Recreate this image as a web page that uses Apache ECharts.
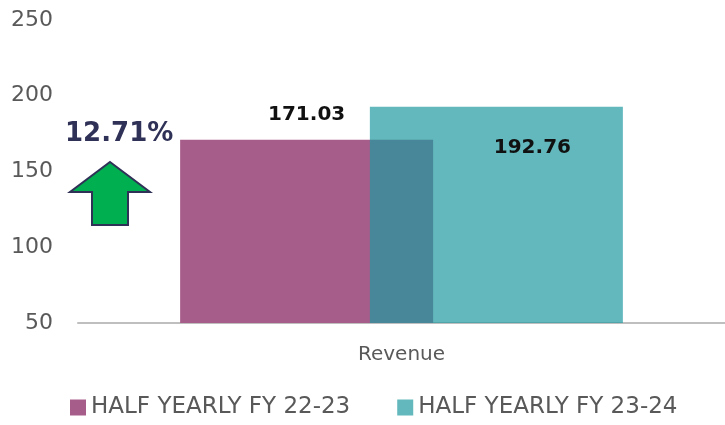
<!DOCTYPE html>
<html>
<head>
<meta charset="utf-8">
<script src="https://cdn.jsdelivr.net/npm/echarts@6/dist/echarts.min.js"></script>
<style>
  html, body { margin: 0; padding: 0; background: #fff; }
  #chart { width: 725px; height: 425px; }
</style>
</head>
<body>
<div id="chart"></div>
<script>
  // data
  const categories = ['Revenue'];
  const seriesNames = ['HALF YEARLY FY 22-23', 'HALF YEARLY FY 23-24'];
  const fy2223 = [171.03];
  const fy2324 = [192.76];
  const growthText = '12.71%';
  const yTicks = [50, 100, 150, 200, 250];

  const fontFamily = '"DejaVu Sans", sans-serif';
  const greyText = '#595959';

  const chart = echarts.init(document.getElementById('chart'));

  chart.setOption({
    animation: false,
    textStyle: { fontFamily: fontFamily },
    grid: {
      left: 78,
      right: 0,
      top: 20,
      bottom: 102
    },
    legend: {
      bottom: 1,
      left: 65,
      itemWidth: 16,
      itemHeight: 16,
      itemGap: 47,
      icon: 'rect',
      textStyle: {
        color: greyText,
        fontSize: 23,
        fontFamily: fontFamily
      },
      data: seriesNames
    },
    xAxis: {
      type: 'category',
      data: categories,
      axisTick: { show: false },
      axisLine: {
        lineStyle: { color: '#bfbfbf', width: 2 }
      },
      axisLabel: {
        color: greyText,
        fontSize: 20,
        margin: 22
      }
    },
    yAxis: {
      type: 'value',
      min: yTicks[0],
      max: yTicks[yTicks.length - 1],
      interval: 50,
      axisLine: { show: false },
      axisTick: { show: false },
      splitLine: { show: false },
      axisLabel: {
        color: greyText,
        fontSize: 22,
        margin: 25
      }
    },
    series: [
      {
        name: seriesNames[0],
        type: 'bar',
        data: fy2223,
        barWidth: 253,
        barGap: '-25%',
        itemStyle: { color: '#a75d8a' },
        label: {
          show: true,
          position: 'top',
          distance: 15,
          color: '#111',
          fontWeight: 'bold',
          fontSize: 20
        }
      },
      {
        name: seriesNames[1],
        type: 'bar',
        data: fy2324,
        barWidth: 253,
        barGap: '-25%',
        // semi transparent so the overlap turns dark teal
        itemStyle: { color: 'rgba(31,154,159,0.7)' },
        label: {
          show: true,
          position: 'insideTop',
          distance: 31,
          offset: [36, 0],
          color: '#111',
          fontWeight: 'bold',
          fontSize: 20
        }
      }
    ],
    graphic: [
      {
        type: 'text',
        left: 65,
        top: 121,
        style: {
          text: growthText,
          fill: '#2f3157',
          font: 'bold 26px ' + fontFamily
        }
      },
      {
        type: 'polygon',
        shape: {
          points: [[110, 162], [150, 192], [128, 192], [128, 225], [92, 225], [92, 192], [70, 192]]
        },
        style: {
          fill: '#00b050',
          stroke: '#2f3157',
          lineWidth: 2
        }
      }
    ]
  });
</script>
</body>
</html>
